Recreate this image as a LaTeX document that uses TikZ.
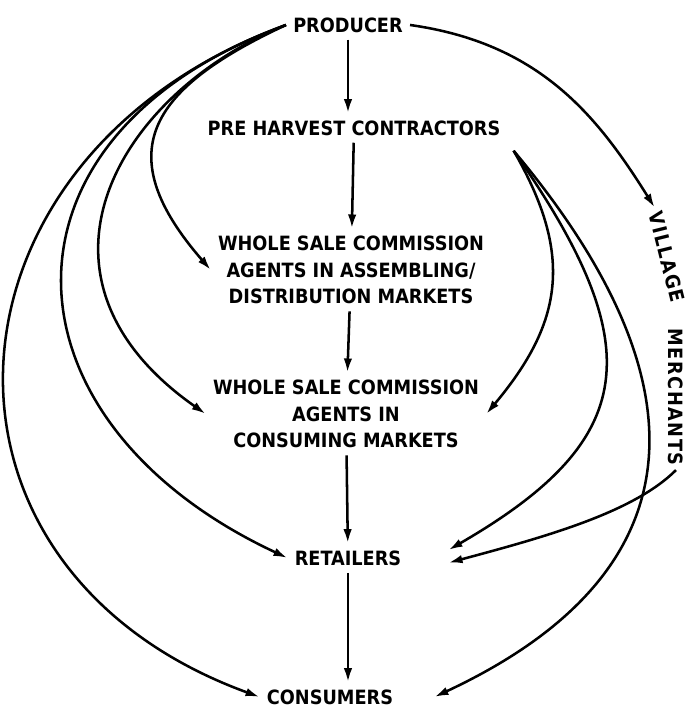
\documentclass[tikz,border=0pt]{standalone}
\usepackage{fontspec}
\setsansfont{DejaVu Sans Condensed}
\usetikzlibrary{arrows.meta,positioning,calc}

\tikzset{
  stage/.style={font=\sffamily\bfseries\fontsize{14}{19}\selectfont,align=center,inner sep=5pt},
  trader/.style={font=\sffamily\bfseries\fontsize{14}{19}\selectfont\addfontfeatures{LetterSpace=8},inner sep=3pt},
  flow/.style={->,line width=1.8pt},
}

\begin{document}
\begin{tikzpicture}[x=1cm,y=1cm,>={Latex[length=10pt,width=6pt]}]
\useasboundingbox (0,0) rectangle (17.175,17.725);
\fill[white] (0,0) rectangle (17.175,17.725);
% stages down the middle
\node[stage] (prod) at (8.700,17.100) {PRODUCER};
\node[stage] (phc) at (8.850,14.525) {PRE HARVEST CONTRACTORS};
\node[stage] (wsa) at (8.775,10.975) {WHOLE SALE COMMISSION\\AGENTS IN ASSEMBLING/\\DISTRIBUTION MARKETS};
\node[stage] (wsc) at (8.650,7.375) {WHOLE SALE COMMISSION\\AGENTS IN\\CONSUMING MARKETS};
\node[stage] (ret) at (8.700,3.775) {RETAILERS};
\node[stage] (cons) at (8.250,0.300) {CONSUMERS};
% village merchants, written down the right edge
\node[trader,rotate=-76] (vil) at (16.675,11.300) {VILLAGE};
\node[trader,rotate=-90] (merch) at (16.900,7.800) {MERCHANTS};
\coordinate (fork) at ([shift={(0.15,-0.2)}]phc.south east);

% main chain
\draw[flow] (prod) -- (prod |- phc.north);
\draw[flow] (phc) -- (wsa);
\draw[flow] (wsa) -- (wsc);
\draw[flow] (wsc) -- (ret);
\draw[flow] (ret) -- (ret |- cons.north);

% producer sells past the middlemen
\draw[flow] (prod.west) to[out=200,in=160,out distance=9.5cm,in distance=9.5cm] (cons.west);
\draw[flow] (prod.west) to[out=200,in=155,out distance=8.1cm,in distance=8.1cm] (ret.west);
\draw[flow] (prod.west) to[out=202,in=145,out distance=4.5cm,in distance=6cm] (wsc.west);
\draw[flow] (prod.west) to[out=205,in=131,out distance=3.85cm,in distance=3.85cm] (wsa.west);
\draw[flow] (prod.east) to[out=-8,in=122,out distance=3.25cm,in distance=2.75cm] (vil.west);

% contractors
\draw[flow] (fork) to[out=-60,in=50,out distance=3cm,in distance=3cm] (wsc.east);
\draw[flow] (fork) to[out=-55,in=30,out distance=6cm,in distance=5.5cm] ([xshift=1cm,yshift=0.2cm]ret.east);
\draw[flow] (fork) to[out=-50,in=25,out distance=7.5cm,in distance=7.4cm] ([xshift=0.85cm]cons.east);

% village merchants
\draw[flow] (merch.east) to[out=225,in=15,out distance=1.5cm,in distance=2.5cm] ([xshift=1cm,yshift=-0.12cm]ret.east);
\end{tikzpicture}
\end{document}
